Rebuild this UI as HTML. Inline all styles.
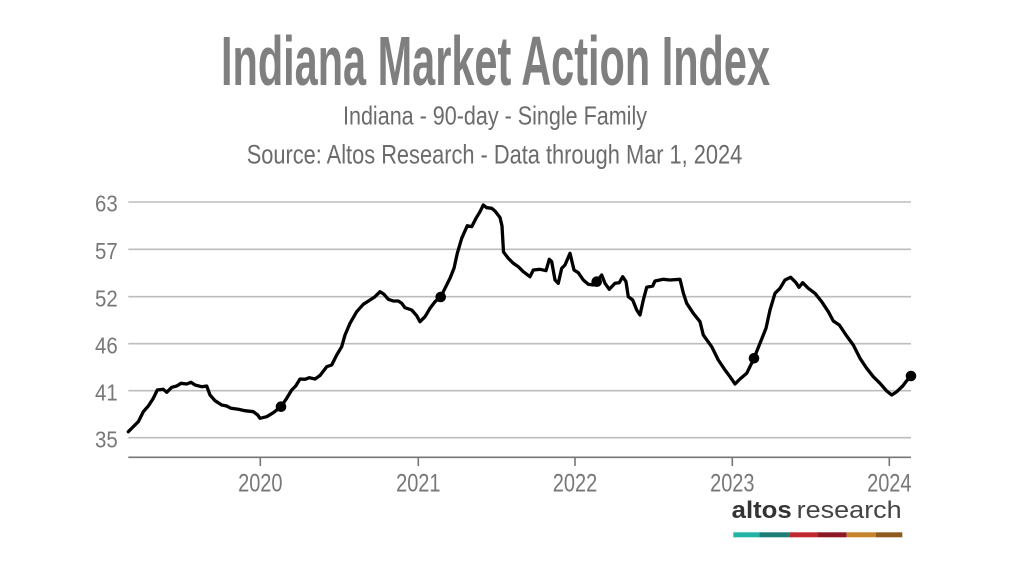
<!DOCTYPE html>
<html>
<head>
<meta charset="utf-8">
<style>
  html, body { margin:0; padding:0; background:#ffffff; }
  body { width:1022px; height:576px; overflow:hidden; }
  svg { display:block; }
  text { font-family: "Liberation Sans", "DejaVu Sans", sans-serif; }
</style>
</head>
<body>
<svg width="1022" height="576" viewBox="0 0 1022 576" xmlns="http://www.w3.org/2000/svg">
  <rect x="0" y="0" width="1022" height="576" fill="#ffffff"/>

  <!-- Titles -->
  <text x="221" y="85" font-size="70" font-weight="bold" fill="#7f7f7f" textLength="549" lengthAdjust="spacingAndGlyphs">Indiana Market Action Index</text>
  <text x="343" y="124.3" font-size="26" fill="#6b6b6b" textLength="304" lengthAdjust="spacingAndGlyphs">Indiana - 90-day - Single Family</text>
  <text x="246.7" y="163.3" font-size="26.5" fill="#6b6b6b" textLength="495.6" lengthAdjust="spacingAndGlyphs">Source: Altos Research - Data through Mar 1, 2024</text>

  <!-- Grid lines -->
  <g stroke="#bdbdbd" stroke-width="1.6">
    <line x1="128.3" y1="202" x2="911" y2="202"/>
    <line x1="128.3" y1="249.3" x2="911" y2="249.3"/>
    <line x1="128.3" y1="296.7" x2="911" y2="296.7"/>
    <line x1="128.3" y1="343.7" x2="911" y2="343.7"/>
    <line x1="128.3" y1="390.7" x2="911" y2="390.7"/>
    <line x1="128.3" y1="437.7" x2="911" y2="437.7"/>
  </g>

  <!-- Y labels -->
  <g font-size="23" fill="#777777">
    <text x="95" y="211.7" textLength="22.7" lengthAdjust="spacingAndGlyphs">63</text>
    <text x="95" y="259" textLength="22.7" lengthAdjust="spacingAndGlyphs">57</text>
    <text x="95" y="306.4" textLength="22.7" lengthAdjust="spacingAndGlyphs">52</text>
    <text x="95" y="353.4" textLength="22.7" lengthAdjust="spacingAndGlyphs">46</text>
    <text x="95" y="400.4" textLength="22.7" lengthAdjust="spacingAndGlyphs">41</text>
    <text x="95" y="447.4" textLength="22.7" lengthAdjust="spacingAndGlyphs">35</text>
  </g>

  <!-- X axis -->
  <line x1="128.3" y1="457.3" x2="911" y2="457.3" stroke="#777777" stroke-width="1.6"/>
  <g stroke="#777777" stroke-width="1.6">
    <line x1="260.3" y1="457.3" x2="260.3" y2="466"/>
    <line x1="418.3" y1="457.3" x2="418.3" y2="466"/>
    <line x1="575" y1="457.3" x2="575" y2="466"/>
    <line x1="732.3" y1="457.3" x2="732.3" y2="466"/>
    <line x1="889.3" y1="457.3" x2="889.3" y2="466"/>
  </g>
  <g font-size="25" fill="#777777">
    <text x="238.1" y="491.7" textLength="44.4" lengthAdjust="spacingAndGlyphs">2020</text>
    <text x="396.1" y="491.7" textLength="44.4" lengthAdjust="spacingAndGlyphs">2021</text>
    <text x="552.8" y="491.7" textLength="44.4" lengthAdjust="spacingAndGlyphs">2022</text>
    <text x="710.1" y="491.7" textLength="44.4" lengthAdjust="spacingAndGlyphs">2023</text>
    <text x="867.1" y="491.7" textLength="44.4" lengthAdjust="spacingAndGlyphs">2024</text>
  </g>

  <!-- Series -->
  <polyline fill="none" stroke="#000000" stroke-width="3.3" stroke-linejoin="round" stroke-linecap="round" points="
128.3,431.7 138.3,421.7 143.3,411.7 148.3,406 153.3,398.3 157.3,390 163.3,389.3 166.7,392.3 171.7,387.3 176.7,386 181,383.3 186.7,384 191,382.3 195,385 201.7,386.7 206.7,386 210,395 215,400.7 221.7,405 226.7,406 231,408.3 238.3,409.3 245,410.7 253.3,411.7 257.7,415 260,418.3 266.7,416.7 273.3,412.7 281,406.7 286.7,398.3 291.7,390 295.7,386 300,379 305,379.3 309.3,377.7 315,379 320,375.5 326.7,366.7 331.7,365 336.7,355 341.7,346.7 345,335 350,323.3 356.7,311.7 363.3,304.3 370,300 375,296.7 380,291.7 384,294.3 388.3,299.3 393.3,301 398.3,301 401.7,303.3 405,307.7 411.7,310 416.7,315.7 420,321.7 425,316.7 430,308.3 435,301.7 440.7,297 445,288.3 450,278.3 454,268.3 457.3,253.3 461.7,238.3 467.3,225.7 471.7,226.7 476,218.3 480,211.7 483.3,205 486.7,207.7 491.7,208.3 495,211 500,217.5 502,226 503.5,252 508.3,258.3 513.3,263.3 518.3,266.7 523.3,271.7 530,276.7 533.3,270 540,269.3 546,270.7 549.3,259.3 551.7,261.7 555,280 558.3,283.3 561.7,268.3 565,265 570,253.3 574,270 578.3,272.7 583.3,280 588.3,284.3 593.3,285 596.7,281.7 601.7,275 605,283.3 609.3,289.3 615,283.3 619.3,282.7 622.7,276.7 626,281.7 628.3,296.7 632.7,300 636.7,310 640,315 643.3,300 646.7,287.3 652.7,286 655,281 663.3,279.3 670,280 680,279.3 683.3,293 686.7,303.3 693.3,313.3 700,321.7 703.3,335 711.7,346.7 718.3,360 725,370 730,376.7 735,384 740,379 746.7,373.3 754,358.3 760,343.3 766,328.3 770,310 775,293.3 780,288.3 785,280 790.7,277.3 796,282.7 799,287.3 802.7,282.7 808.3,288.3 815,293.3 821.7,301.7 828.3,311.7 833.3,321 839.3,325 846.7,336 853.3,345 860,358.3 866.7,368.3 873.3,376.7 880,383.3 886.7,391 891.7,395 896.7,391.7 902.7,386 906.7,380.7 911,376"/>

  <!-- Annual dots -->
  <g fill="#000000">
    <circle cx="281" cy="406.7" r="5.3"/>
    <circle cx="440.7" cy="297" r="5.3"/>
    <circle cx="596.7" cy="281.7" r="5.3"/>
    <circle cx="754" cy="358.3" r="5.3"/>
    <circle cx="911" cy="376" r="5.3"/>
  </g>

  <!-- Logo -->
  <text x="731.7" y="518" font-size="24" font-weight="bold" fill="#333333" textLength="60" lengthAdjust="spacingAndGlyphs">altos</text>
  <text x="796.7" y="518" font-size="24" fill="#444444" textLength="105" lengthAdjust="spacingAndGlyphs">research</text>
  <rect x="733.3" y="532.3" width="26" height="5" fill="#22b2a6"/>
  <rect x="759.3" y="532.3" width="30" height="5" fill="#1c7e74"/>
  <rect x="789.3" y="532.3" width="28" height="5" fill="#c1272f"/>
  <rect x="817.3" y="532.3" width="29.4" height="5" fill="#8c1a25"/>
  <rect x="846.7" y="532.3" width="29.3" height="5" fill="#c5842c"/>
  <rect x="876" y="532.3" width="26.3" height="5" fill="#8e5a1f"/>
</svg>
</body>
</html>
